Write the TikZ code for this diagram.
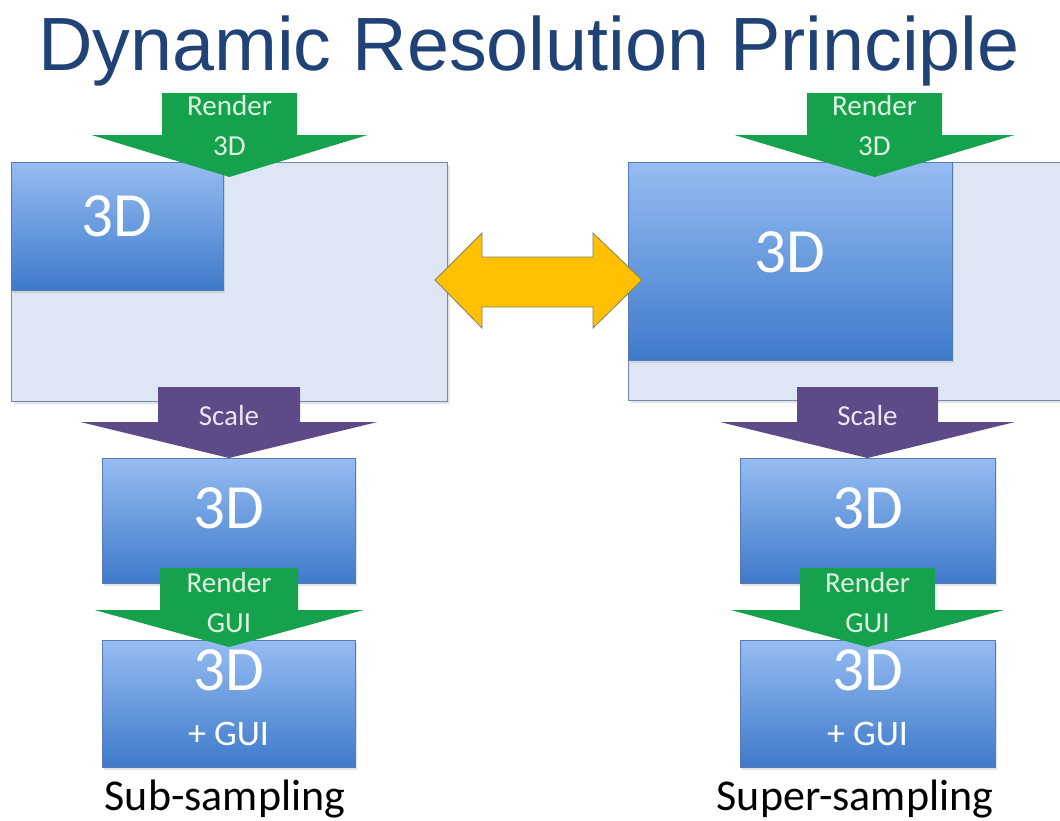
\documentclass[tikz,border=0pt]{standalone}
\usepackage{fontspec}
\setmainfont{Carlito}
\newfontfamily\titlefont{Liberation Sans}
\usetikzlibrary{shadows}

\definecolor{titleblue}{RGB}{33,66,118}
\definecolor{panelfill}{RGB}{221,230,242}
\definecolor{panelline}{RGB}{112,140,178}
\definecolor{boxtop}{RGB}{150,188,242}
\definecolor{boxbot}{RGB}{62,122,202}
\definecolor{boxline}{RGB}{86,124,182}
\definecolor{rendergreen}{RGB}{22,162,76}
\definecolor{rendertext}{RGB}{222,244,226}
\definecolor{scalepurple}{RGB}{94,74,135}
\definecolor{scaletext}{RGB}{234,228,244}
\definecolor{swaporange}{RGB}{255,192,0}
\definecolor{swapline}{RGB}{128,128,108}

\tikzset{
  softshadow/.style={drop shadow={opacity=0.22, shadow xshift=2pt, shadow yshift=-2.5pt}},
  panelbox/.style={draw=panelline, line width=1pt, fill=panelfill, inner sep=0pt,
    anchor=north west, softshadow},
  imgbox/.style={draw=boxline, line width=0.6pt, top color=boxtop, bottom color=boxbot,
    inner sep=0pt, anchor=north west, softshadow},
  bigtxt/.style={text=white, font=\fontsize{63}{70}\selectfont, anchor=base, inner sep=0pt},
  midtxt/.style={text=white, font=\fontsize{36}{40}\selectfont, anchor=base, inner sep=0pt},
  rendertxt/.style={text=rendertext, font=\fontsize{29}{32}\selectfont, anchor=base, inner sep=0pt},
  scaletxt/.style={text=scaletext, font=\fontsize{29}{32}\selectfont, anchor=base, inner sep=0pt},
  captxt/.style={text=black, font=\fontsize{44}{48}\selectfont, anchor=base, inner sep=0pt},
  greenarrow/.style={fill=rendergreen},
  purplearrow/.style={fill=scalepurple},
}

% downward block arrow: centre x, stem half width, head half width,
% top y, shoulder y, tip y, style
\newcommand{\blkarrow}[7]{%
  \fill[#7] (#1-#2,#4) -- (#1+#2,#4) -- (#1+#2,#5) -- (#1+#3,#5) -- (#1,#6)
    -- (#1-#3,#5) -- (#1-#2,#5) -- cycle;}

\begin{document}
\begin{tikzpicture}[x=1pt,y=-1pt]
\useasboundingbox (0,0) rectangle (1060,820);
\fill[white] (0,0) rectangle (1060,820);

% title
\node[anchor=base, inner sep=0pt, text=titleblue,
  font=\titlefont\fontsize{75.5}{80}\selectfont] (title) at (529,70) {Dynamic Resolution Principle};

% ---------- left column: sub-sampling ----------
\node[panelbox, minimum width=436pt, minimum height=239pt] (lpanel) at (11,162) {};
\node[imgbox, minimum width=212pt, minimum height=128pt] (lrender) at (11,162) {};
\node[bigtxt] (lrendertxt) at (117,236) {3D};
\blkarrow{229.5}{67.5}{138}{93}{135}{177}{greenarrow}
\node[rendertxt] (lr1) at (229.5,115) {Render};
\node[rendertxt] (lr2) at (229.5,155) {3D};

\node[imgbox, minimum width=253pt, minimum height=125pt] (lscaled) at (102,458) {};
\node[bigtxt] (lscaledtxt) at (228.5,528) {3D};
\node[imgbox, minimum width=253pt, minimum height=127pt] (lfinal) at (102,640) {};
\node[bigtxt] (lfinaltxt) at (228.5,690) {3D};
\node[midtxt] (lfinalgui) at (228.5,745) {+ GUI};

\blkarrow{229}{71}{148.5}{387}{422}{458}{purplearrow}
\node[scaletxt] (lscale) at (229,425) {Scale};
\blkarrow{229}{69}{134.5}{568}{610}{647}{greenarrow}
\node[rendertxt] (lg1) at (229,592) {Render};
\node[rendertxt] (lg2) at (229,632) {GUI};

\node[captxt] (lcap) at (225,810) {Sub-sampling};

% ---------- right column: super-sampling ----------
\node[panelbox, minimum width=440pt, minimum height=238pt] (rpanel) at (628,162) {};
\node[imgbox, minimum width=324pt, minimum height=198pt] (rrender) at (628,162) {};
\node[bigtxt] (rrendertxt) at (790,272) {3D};
\blkarrow{874.5}{67.5}{140}{93}{135}{177}{greenarrow}
\node[rendertxt] (rr1) at (874.5,115) {Render};
\node[rendertxt] (rr2) at (874.5,155) {3D};

\node[imgbox, minimum width=255pt, minimum height=125pt] (rscaled) at (740,458) {};
\node[bigtxt] (rscaledtxt) at (867.5,528) {3D};
\node[imgbox, minimum width=255pt, minimum height=127pt] (rfinal) at (740,640) {};
\node[bigtxt] (rfinaltxt) at (867.5,690) {3D};
\node[midtxt] (rfinalgui) at (867.5,745) {+ GUI};

\blkarrow{867.5}{70.5}{147.5}{387}{422}{458}{purplearrow}
\node[scaletxt] (rscale) at (867.5,425) {Scale};
\blkarrow{867.5}{67.5}{136.5}{568}{610}{647}{greenarrow}
\node[rendertxt] (rg1) at (867.5,592) {Render};
\node[rendertxt] (rg2) at (867.5,632) {GUI};

\node[captxt] (rcap) at (855,810) {Super-sampling};

% ---------- switching between the two modes ----------
\draw[fill=swaporange, draw=swapline, line width=0.8pt, line join=miter]
  (435,280) -- (482,233) -- (482,257) -- (593,257) -- (593,233) -- (642,280)
  -- (593,328) -- (593,307) -- (482,307) -- (482,328) -- cycle;
\end{tikzpicture}
\end{document}
